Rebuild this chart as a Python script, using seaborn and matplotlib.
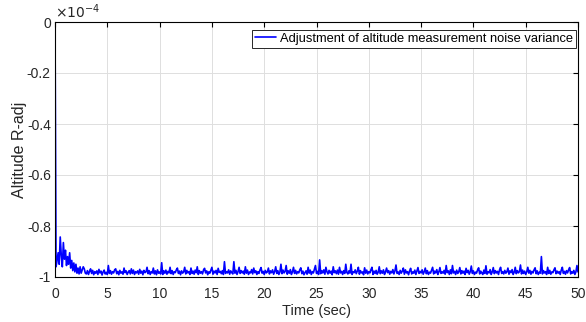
import numpy as np
import pandas as pd
import matplotlib
matplotlib.use("Agg")
import matplotlib.pyplot as plt
import seaborn as sns

# Altitude R-adj values in units of 1e-7 (i.e. thousandths of the 1e-4 axis unit),
# sampled every 0.1 s; one row per second.
sample_step_sec = 0.1
r_adj_s00_09 = [
    0, -960, -935, -905, -950, -843, -915, -960, -865, -930,
    -895, -955, -920, -950, -905, -965, -935, -975, -945, -980,
    -950, -985, -965, -988, -960, -985, -972, -960, -968, -985,
    -988, -975, -990, -978, -968, -986, -974, -991, -979, -985,
    -976, -990, -970, -984, -977, -992, -980, -973, -988, -982,
    -990, -955, -986, -975, -989, -979, -984, -972, -968, -987,
    -978, -991, -974, -985, -980, -989, -965, -983, -976, -990,
    -981, -975, -988, -968, -986, -973, -990, -979, -984, -976,
    -989, -970, -985, -977, -991, -974, -983, -980, -962, -987,
    -975, -990, -979, -984, -965, -988, -976, -991, -972, -985,
]
r_adj_s10_19 = [
    -980, -988, -944, -990, -976, -985, -973, -989, -978, -984,
    -962, -987, -975, -990, -979, -983, -972, -965, -986, -977,
    -991, -976, -985, -980, -962, -988, -974, -984, -979, -990,
    -965, -986, -977, -989, -973, -983, -960, -990, -975, -985,
    -979, -988, -972, -966, -984, -976, -991, -980, -985, -973,
    -962, -989, -977, -984, -974, -990, -966, -982, -978, -987,
    -975, -990, -940, -986, -979, -984, -972, -989, -976, -983,
    -988, -940, -985, -974, -990, -979, -962, -986, -975, -984,
    -977, -989, -960, -985, -973, -990, -980, -984, -971, -988,
    -965, -983, -976, -990, -979, -986, -972, -963, -985, -978,
]
r_adj_s20_29 = [
    -990, -974, -984, -980, -965, -988, -976, -983, -972, -989,
    -979, -960, -986, -975, -990, -981, -950, -987, -973, -984,
    -978, -955, -989, -976, -985, -971, -990, -980, -962, -986,
    -974, -988, -979, -984, -972, -964, -987, -977, -991, -983,
    -976, -989, -962, -985, -973, -990, -979, -984, -970, -955,
    -986, -978, -990, -933, -987, -975, -984, -972, -989, -962,
    -980, -988, -974, -985, -977, -991, -960, -983, -976, -987,
    -973, -989, -962, -984, -978, -990, -975, -986, -950, -982,
    -988, -976, -985, -950, -990, -979, -983, -972, -987, -977,
    -962, -989, -975, -984, -980, -991, -964, -985, -973, -988,
]
r_adj_s30_39 = [
    -979, -984, -972, -962, -990, -977, -986, -974, -989, -981,
    -960, -987, -976, -985, -972, -990, -980, -965, -983, -975,
    -989, -978, -984, -971, -988, -976, -953, -986, -980, -990,
    -974, -985, -977, -965, -989, -972, -984, -979, -991, -976,
    -966, -988, -980, -985, -973, -990, -977, -963, -986, -978,
    -984, -972, -989, -979, -965, -987, -975, -990, -981, -985,
    -973, -962, -988, -977, -984, -971, -990, -980, -963, -986,
    -979, -985, -974, -989, -955, -983, -976, -990, -972, -987,
    -955, -984, -978, -990, -973, -986, -980, -963, -988, -975,
    -985, -977, -990, -966, -983, -974, -989, -979, -957, -986,
]
r_adj_s40_50 = [
    -976, -990, -981, -985, -972, -964, -988, -977, -984, -990,
    -973, -986, -956, -989, -979, -984, -971, -990, -980, -963,
    -987, -975, -984, -978, -990, -972, -962, -986, -979, -988,
    -974, -985, -980, -965, -989, -976, -983, -971, -990, -981,
    -962, -987, -975, -984, -979, -953, -988, -973, -986, -977,
    -990, -980, -962, -985, -974, -989, -978, -984, -972, -964,
    -987, -976, -990, -981, -985, -920, -988, -975, -984, -979,
    -990, -962, -986, -974, -989, -980, -983, -972, -964, -987,
    -977, -985, -979, -990, -973, -962, -986, -978, -989, -975,
    -984, -972, -963, -988, -979, -985, -974, -990, -980, -955,
    -980,
]

legend_label = "Adjustment of altitude measurement noise variance"
x_label = "Time (sec)"
y_label = "Altitude R-adj"
x_ticks = [0, 5, 10, 15, 20, 25, 30, 35, 40, 45, 50]
y_ticks = [0, -0.2, -0.4, -0.6, -0.8, -1]
y_tick_labels = ["0", "-0.2", "-0.4", "-0.6", "-0.8", "-1"]

raw = r_adj_s00_09 + r_adj_s10_19 + r_adj_s20_29 + r_adj_s30_39 + r_adj_s40_50
values = np.array(raw, dtype=float) / 1000.0  # in units of 1e-4
time = np.round(np.arange(len(values)) * sample_step_sec, 1)
df = pd.DataFrame({"time": time, "radj": values, "series": legend_label})

sns.set_style("white")
plt.rcParams["font.family"] = ["Liberation Sans", "DejaVu Sans"]
txt = "#262626"

fig = plt.figure(figsize=(5.86, 3.22), dpi=100)
ax = fig.add_axes([55 / 586, 1 - 277 / 322, (578 - 55) / 586, (277 - 22) / 322])

sns.lineplot(data=df, x="time", y="radj", hue="series", palette=["#0000FF"],
             estimator=None, linewidth=1.2, ax=ax)

ax.set_xlim(0, 50)
ax.set_ylim(-1, 0)
ax.set_xticks(x_ticks)
ax.set_xticklabels([str(t) for t in x_ticks])
ax.set_yticks(y_ticks)
ax.set_yticklabels(y_tick_labels)
ax.grid(True, color="#dedede", linewidth=0.7)
ax.set_axisbelow(True)
ax.tick_params(direction="in", length=3.5, width=0.8, colors="black",
               labelcolor=txt, labelsize=10, top=True, right=True)
ax.tick_params(axis="x", pad=7)
ax.tick_params(axis="y", pad=3)
for s in ax.spines.values():
    s.set_visible(True)
    s.set_color("black")
    s.set_linewidth(0.8)
ax.set_xlabel(x_label, fontsize=10.5, color=txt, labelpad=2)
ax.set_ylabel(y_label, fontsize=11.5, color=txt, labelpad=0)
ax.text(0.0, 1.005, r"$\times 10^{-4}$", transform=ax.transAxes, fontsize=10,
        color=txt, ha="left", va="bottom", math_fontfamily="dejavusans")

leg = ax.legend(loc="upper right", bbox_to_anchor=(0.996, 0.97), fontsize=9.25,
                frameon=True, fancybox=False, edgecolor="#262626", framealpha=1,
                handlelength=1.6, handletextpad=0.3, borderpad=0.25, borderaxespad=0.0)
leg.get_frame().set_linewidth(0.7)
for t in leg.get_texts():
    t.set_color("black")

fig.savefig("out.png", dpi=100)
